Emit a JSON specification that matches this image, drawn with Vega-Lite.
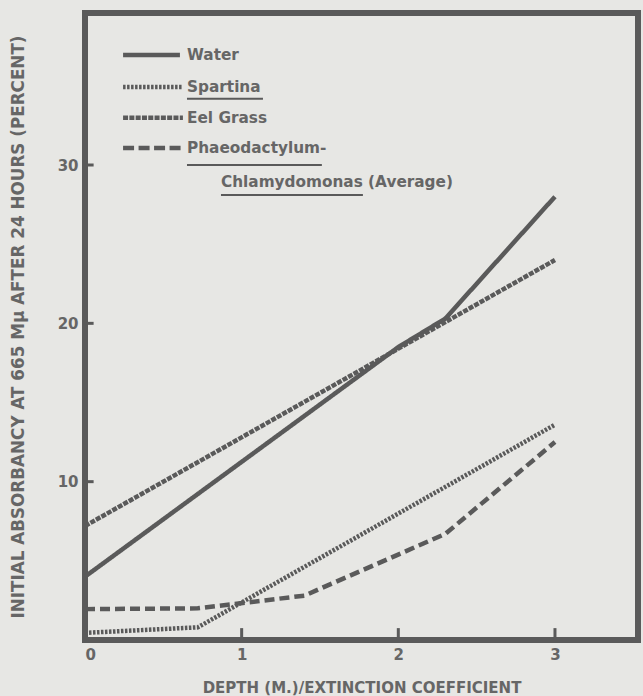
{
  "$schema": "https://vega.github.io/schema/vega-lite/v6.json",
  "autosize": "none",
  "width": 553,
  "height": 627,
  "padding": {"left": 85, "top": 13, "right": 5, "bottom": 56},
  "background": "#e7e7e4",
  "config": {
    "view": {"stroke": "#5a5a5a", "strokeWidth": 6},
    "axis": {
      "domain": false,
      "grid": false,
      "ticks": false,
      "labelFont": "DejaVu Sans",
      "labelFontWeight": "bold",
      "labelFontSize": 15,
      "labelColor": "#666666",
      "titleFont": "DejaVu Sans",
      "titleFontWeight": "bold",
      "titleColor": "#666666"
    },
    "text": {"font": "DejaVu Sans", "fontWeight": "bold", "fontSize": 15.3, "color": "#666666", "align": "left", "baseline": "middle"},
    "rule": {"color": "#5a5a5a"}
  },
  "datasets": {
    "absorbancy": [
      {"series": "Water", "depth": 0, "value": 4.0},
      {"series": "Water", "depth": 2.0, "value": 18.5},
      {"series": "Water", "depth": 2.3, "value": 20.3},
      {"series": "Water", "depth": 3.0, "value": 28.0},
      {"series": "Spartina", "depth": 0, "value": 0.45},
      {"series": "Spartina", "depth": 0.72, "value": 0.8},
      {"series": "Spartina", "depth": 3.0, "value": 13.6},
      {"series": "Eel Grass", "depth": 0, "value": 7.2},
      {"series": "Eel Grass", "depth": 3.0, "value": 24.0},
      {"series": "Phaeodactylum-Chlamydomonas", "depth": 0, "value": 1.95},
      {"series": "Phaeodactylum-Chlamydomonas", "depth": 0.72, "value": 2.0},
      {"series": "Phaeodactylum-Chlamydomonas", "depth": 1.4, "value": 2.8},
      {"series": "Phaeodactylum-Chlamydomonas", "depth": 2.3, "value": 6.7},
      {"series": "Phaeodactylum-Chlamydomonas", "depth": 3.0, "value": 12.5}
    ],
    "depthTicks": [{"depth": 1}, {"depth": 2}, {"depth": 3}],
    "valueTicks": [{"value": 10}, {"value": 20}, {"value": 30}],
    "anchor": [{}]
  },
  "layer": [
    {
      "data": {"name": "absorbancy"},
      "mark": {"type": "line", "color": "#5a5a5a", "strokeWidth": 4.5, "strokeCap": "butt"},
      "encoding": {
        "x": {
          "field": "depth",
          "type": "quantitative",
          "scale": {"domain": [0, 3.53], "nice": false, "zero": false},
          "axis": {"values": [0, 1, 2, 3], "format": "d", "labelPadding": 7, "title": "DEPTH (M.)/EXTINCTION COEFFICIENT", "titleFontSize": 15, "titlePadding": 18}
        },
        "y": {
          "field": "value",
          "type": "quantitative",
          "scale": {"domain": [0, 39.6], "nice": false, "zero": false},
          "axis": {"values": [10, 20, 30], "format": "d", "labelPadding": 7, "title": "INITIAL ABSORBANCY AT 665 Mμ AFTER 24 HOURS (PERCENT)", "titleFontSize": 16.8, "titlePadding": 30}
        },
        "detail": {"field": "series", "type": "nominal"},
        "strokeDash": {
          "field": "series",
          "type": "nominal",
          "scale": {
            "domain": ["Water", "Spartina", "Eel Grass", "Phaeodactylum-Chlamydomonas"],
            "range": [[1, 0], [2.5, 1.5], [5, 1.3], [10, 5]]
          },
          "legend": null
        }
      }
    },
    {
      "data": {"name": "depthTicks"},
      "mark": {"type": "rule", "strokeWidth": 3},
      "encoding": {"x": {"field": "depth", "type": "quantitative"}, "y": {"datum": 0}, "y2": {"datum": 0.75}}
    },
    {
      "data": {"name": "valueTicks"},
      "mark": {"type": "rule", "strokeWidth": 3},
      "encoding": {"y": {"field": "value", "type": "quantitative"}, "x": {"datum": 0}, "x2": {"datum": 0.055}}
    },
    {
      "data": {"name": "anchor"},
      "mark": {"type": "rule", "strokeWidth": 4.5},
      "encoding": {"x": {"datum": 0.243}, "x2": {"datum": 0.606}, "y": {"datum": 36.95}}
    },
    {
      "data": {"name": "anchor"},
      "mark": {"type": "rule", "strokeWidth": 4.5, "strokeDash": [2.5, 1.5]},
      "encoding": {"x": {"datum": 0.243}, "x2": {"datum": 0.625}, "y": {"datum": 34.93}}
    },
    {
      "data": {"name": "anchor"},
      "mark": {"type": "rule", "strokeWidth": 4.5, "strokeDash": [5, 1.3]},
      "encoding": {"x": {"datum": 0.243}, "x2": {"datum": 0.625}, "y": {"datum": 32.98}}
    },
    {
      "data": {"name": "anchor"},
      "mark": {"type": "rule", "strokeWidth": 4.5, "strokeDash": [11, 4.5]},
      "encoding": {"x": {"datum": 0.243}, "x2": {"datum": 0.638}, "y": {"datum": 31.08}}
    },
    {
      "data": {"name": "anchor"},
      "mark": {"type": "text", "text": "Water"},
      "encoding": {"x": {"datum": 0.651}, "y": {"datum": 36.95}}
    },
    {
      "data": {"name": "anchor"},
      "mark": {"type": "text", "text": "Spartina"},
      "encoding": {"x": {"datum": 0.651}, "y": {"datum": 34.93}}
    },
    {
      "data": {"name": "anchor"},
      "mark": {"type": "text", "text": "Eel Grass"},
      "encoding": {"x": {"datum": 0.651}, "y": {"datum": 32.98}}
    },
    {
      "data": {"name": "anchor"},
      "mark": {"type": "text", "text": "Phaeodactylum-"},
      "encoding": {"x": {"datum": 0.651}, "y": {"datum": 31.08}}
    },
    {
      "data": {"name": "anchor"},
      "mark": {"type": "text", "text": "Chlamydomonas (Average)"},
      "encoding": {"x": {"datum": 0.868}, "y": {"datum": 28.93}}
    },
    {
      "data": {"name": "anchor"},
      "mark": {"type": "rule", "strokeWidth": 2},
      "encoding": {"x": {"datum": 0.651}, "x2": {"datum": 1.136}, "y": {"datum": 34.18}}
    },
    {
      "data": {"name": "anchor"},
      "mark": {"type": "rule", "strokeWidth": 2},
      "encoding": {"x": {"datum": 0.651}, "x2": {"datum": 1.512}, "y": {"datum": 30.0}}
    },
    {
      "data": {"name": "anchor"},
      "mark": {"type": "rule", "strokeWidth": 2},
      "encoding": {"x": {"datum": 0.868}, "x2": {"datum": 1.774}, "y": {"datum": 28.11}}
    }
  ]
}
